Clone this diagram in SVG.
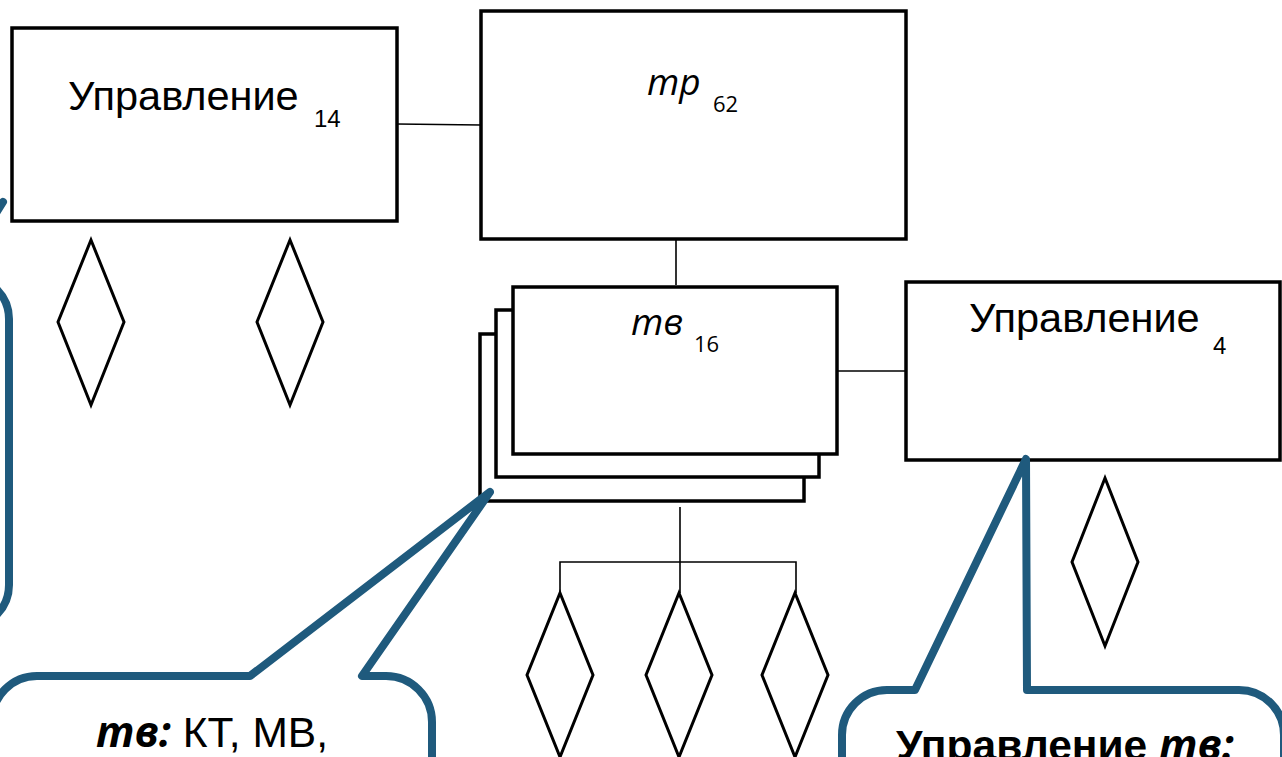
<svg xmlns="http://www.w3.org/2000/svg" width="1282" height="757" viewBox="0 0 1282 757">
<style>
.box{fill:#fff;stroke:#000;stroke-width:3.5}
.dia{fill:#fff;stroke:#000;stroke-width:3}
.ln{fill:none;stroke:#000;stroke-width:1.6}
.call{fill:#fff;stroke:#1f5a7d;stroke-width:8;stroke-linejoin:round;stroke-linecap:round}
.t{font-family:"Liberation Sans",Arial,sans-serif;font-size:41.5px;fill:#000}
.tb{font-family:"Liberation Sans",Arial,sans-serif;font-size:42.5px;fill:#000}
.sub{font-family:"Open Sans","Noto Sans",sans-serif;font-size:22px;fill:#000}
.subA{font-family:"Liberation Sans",Arial,sans-serif;font-size:24px;fill:#000}
.it{font-family:"Open Sans","Noto Sans",sans-serif;font-style:italic;font-size:37px;fill:#000}
</style>
<rect width="1282" height="757" fill="#fff"/>
<g id="connectors">
<line class="ln" x1="397" y1="124" x2="481" y2="125"/>
<line class="ln" x1="676" y1="239" x2="676" y2="285"/>
<line class="ln" x1="838" y1="371" x2="906" y2="371"/>
<line class="ln" x1="680" y1="507" x2="680" y2="593"/>
<polyline class="ln" points="560,593 560,562 796,562 796,593"/>
</g>
<g id="callout-left">
<rect class="call" x="-400" y="277" width="409" height="350" rx="42"/>
<line class="call" x1="-12" y1="226" x2="3" y2="202"/>
</g>
<g id="node-upr14">
<rect class="box" x="12" y="28" width="385" height="193"/>
<text class="t" x="68" y="110">Управление</text>
<text class="subA" x="314" y="127">14</text>
</g>
<g id="node-tr62">
<rect class="box" x="481" y="11" width="425" height="228"/>
<text class="it" x="647" y="95">тр</text>
<text class="sub" x="713" y="112">62</text>
</g>
<g id="node-tv16">
<rect class="box" x="480" y="334" width="324" height="167"/>
<rect class="box" x="496" y="310" width="323" height="167"/>
<rect class="box" x="513" y="287" width="324" height="167"/>
<text class="it" x="631" y="335">тв</text>
<text class="sub" x="694" y="352">16</text>
</g>
<g id="node-upr4">
<rect class="box" x="906" y="282" width="374" height="178"/>
<text class="t" x="969" y="332">Управление</text>
<text class="subA" x="1213" y="354">4</text>
</g>
<g id="diamonds">
<polygon class="dia" points="91,240 124,322 91,405 58,322"/>
<polygon class="dia" points="290,240 323,322 290,405 257,322"/>
<polygon class="dia" points="1105,478 1138,562 1105,646 1072,562"/>
<polygon class="dia" points="560,593 593,675 560,757 527,675"/>
<polygon class="dia" points="679,593 712,675 679,757 646,675"/>
<polygon class="dia" points="795,593 828,675 795,757 762,675"/>
</g>
<g id="callout-tv">
<path class="call" d="M 250,676 L 490,492 L 362,676 L 386,676 A 46 46 0 0 1 432,722 L 432,800 L -8,800 L -8,721 A 45 45 0 0 1 37,676 Z"/>
<text class="tb" x="212" y="747" text-anchor="middle"><tspan font-family="'Open Sans','Noto Sans',sans-serif" font-weight="bold" font-style="italic">тв:</tspan> КТ, МВ,</text>
</g>
<g id="callout-upr">
<path class="call" d="M 915,690 L 1026,459 L 1027,690 L 1239,690 A 45 45 0 0 1 1284,735 L 1284,800 L 842,800 L 842,735 A 45 45 0 0 1 887,690 Z"/>
<text class="tb" x="1065" y="760" text-anchor="middle" font-weight="bold">Управление <tspan font-family="'Open Sans','Noto Sans',sans-serif" font-style="italic">тв:</tspan></text>
</g>
</svg>
